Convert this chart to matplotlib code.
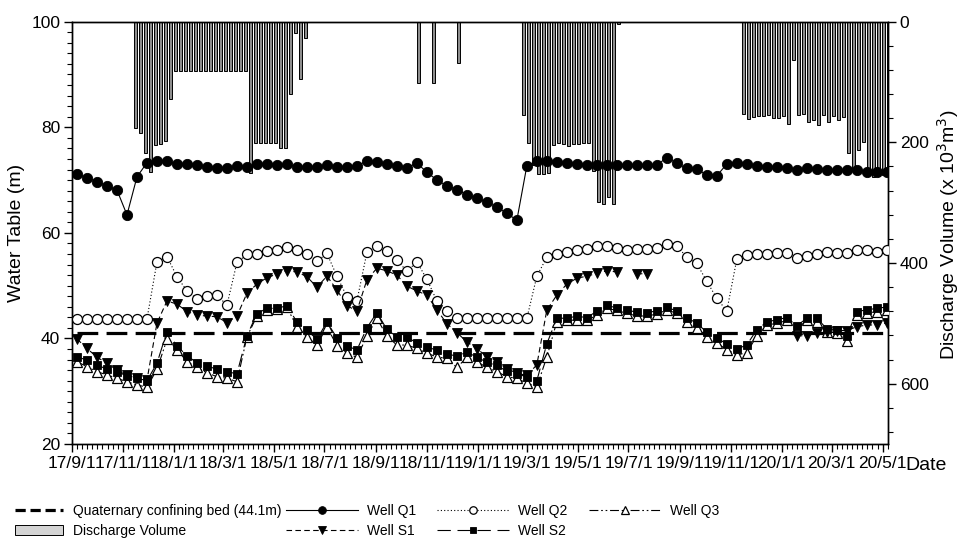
import numpy as np
import pandas as pd
import matplotlib
matplotlib.use('Agg')
import matplotlib.pyplot as plt
import matplotlib.dates as mdates
from matplotlib.lines import Line2D
from matplotlib.patches import Patch
from matplotlib.ticker import FixedLocator, MultipleLocator, FuncFormatter

plt.rcParams['font.family'] = ['Liberation Sans', 'DejaVu Sans']

# ---------------- data ----------------
obs_start = '2017-09-07'
obs_step_days = 12

well_q1 = [71.1, 70.45, 69.7, 68.9, 68.1, 63.4, 70.6, 73.3, 73.6, 73.6, 73.0, 73.0, 72.85, 72.5, 72.3, 72.3, 72.6, 72.5,
           73.0, 73.0, 72.85, 73.0, 72.5, 72.5, 72.5, 72.85, 72.5, 72.5, 72.6, 73.7, 73.4, 73.0, 72.7, 72.35, 73.2, 71.5,
           70.0, 68.9, 68.2, 67.2, 66.6, 65.8, 64.9, 63.7, 62.4,
           72.7, 73.6, 73.6, 73.5, 73.2, 73.0, 72.85, 72.85, 72.85, 72.85, 72.85, 72.85, 72.85, 72.85,
           74.25, 73.2, 72.2, 72.1, 70.95, 70.8, 73.05, 73.3, 73.05, 72.7, 72.5, 72.4, 72.35, 72.0, 72.2, 72.1,
           72.0, 71.9, 71.9, 72.0, 71.6, 71.6, 71.6]

well_q2 = [43.7, 43.7, 43.7, 43.7, 43.7, 43.7, 43.7, 43.7,
           54.5, 55.5, 51.7, 49.0, 47.5, 48.1, 48.2, 46.3, 54.4, 55.9,
           55.9, 56.5, 56.75, 57.25, 56.75, 55.9, 54.6, 56.1, 51.8, 47.9, 47.1, 56.3, 57.5, 56.5, 54.9, 52.7,
           54.5, 51.2, 47.1, 45.2,
           43.8, 43.8, 43.8, 43.8, 43.8, 43.8, 43.8, 43.8,
           51.8, 55.4, 55.9, 56.3, 56.75, 56.85, 57.5, 57.5, 57.1,
           56.8, 56.9, 56.9, 57.1, 57.9, 57.5, 55.4, 54.2, 50.8, 47.6, 45.2,
           55.0, 55.8, 55.9, 55.9, 56.1, 56.25, 55.2, 55.7, 56.0, 56.3, 56.25, 56.25, 56.75, 56.75, 56.4, 56.75]

well_q3 = [35.6, 34.65, 33.7, 33.1, 32.45, 31.8, 31.2, 30.75, 34.15, 39.8, 37.9, 35.6, 34.5, 33.5, 32.75, 32.45,
           31.8, 40.3, 44.25, 45.4, 45.5, 45.9, 42.2, 40.3, 38.75, 42.2, 38.6, 37.3, 36.4, 40.45, 43.8, 40.45,
           38.75, 38.75, 38.1, 37.2, 36.5, 36.2, 34.5, 36.4, 35.6, 34.5, 33.7, 32.75,
           32.45, 31.5, 30.85, 36.5, 43.2, 43.4, 43.5, 43.4, 44.4, 45.7, 45.3, 44.75, 44.25, 44.25, 44.6, 45.4,
           44.75, 43.2, 41.9, 40.2, 39.1, 37.9, 36.85, 37.3, 40.45, 42.55, 42.85, 43.4, 41.7, 43.5, 43.2, 41.3,
           41.0, 39.6, 44.4, 44.75, 45.1, 45.4]

nan = np.nan
well_s1 = [39.9, 38.1, 36.45, 35.3, 34.0, 33.0, 32.5, 32.1,
           42.9, 47.1, 46.5, 45.1, 44.4, 44.25, 44.1, 43.0, 44.25, 48.55, 50.3, 51.5, 52.2, 52.8, 52.6, 51.7,
           49.7, 51.8, 49.2, 46.2, 45.2, 51.1, 53.3, 52.8, 52.0, 49.9, 49.0, 48.2, 45.4,
           42.8, 41.1, 39.35, 38.05, 36.55, 35.5, 34.3, 33.4, 33.0, 35.0,
           45.4, 48.2, 50.3, 51.4, 51.8, 52.3, 52.8, 52.6,
           nan, 52.25, 52.25,
           nan, nan, nan, nan, nan, nan, nan, nan, nan, nan, nan, nan, nan, nan,
           40.5, 40.5, 41.0, 41.3, 41.5, 41.5, 42.2, 42.55, 42.55, 42.9]

well_s2 = [36.5, 35.9, 35.0, 34.15, 33.7, 32.9, 32.45, 32.0, 35.3, 41.3, 38.6, 36.7, 35.4, 34.8, 34.15, 33.7,
           33.3, 40.5, 44.7, 45.7, 45.7, 46.2, 43.1, 41.55, 39.85, 43.1, 40.1, 38.6, 37.8, 42.0, 44.9, 41.7,
           40.3, 40.3, 39.1, 38.4, 37.75, 37.0, 36.7, 37.35, 36.5, 35.45, 34.9, 33.75,
           33.3, 32.7, 32.0, 39.0, 43.8, 43.85, 44.2, 43.95, 45.15, 46.3, 45.75, 45.4, 44.95, 44.9, 45.2, 45.9, 45.2,
           43.9, 42.9, 41.15, 40.15, 38.9, 38.0, 38.75, 41.65, 43.1, 43.55, 43.95, 42.4, 43.8, 43.9, 41.8,
           41.65, 40.4, 45.1, 45.4, 45.7, 45.95]

confining_bed_level = 41.1
confining_bed_label = 'Quaternary confining bed (44.1m)'

discharge_step_days = 6
discharge_season1_start = '2017-11-16'
discharge_season1 = [177, 185, 217, 249, 205, 202, 197, 128,
                     81, 81, 81, 81, 81, 81, 81, 81, 81, 81, 81, 81, 81, 81, 81,
                     251, 201, 201, 201, 201, 201, 209, 209, 120, 19, 95, 27]
discharge_single_dates = ['2018-10-22', '2018-11-09', '2018-12-09']
discharge_single = [101, 101, 68]
discharge_season2_start = '2019-02-25'
discharge_season2 = [155, 201, 238, 252, 252, 251, 205, 201, 203, 206, 203, 203, 201, 201, 248, 299, 302, 290, 302, 3]
discharge_season3_start = '2019-11-16'
discharge_season3 = [153, 161, 158, 156, 157, 155, 160, 160, 157, 170, 63, 155, 153, 167, 163, 172, 155, 167,
                     157, 163, 158, 217, 246, 212, 199, 254, 257, 255, 254, 253]

x_start = '2017-09-01'
x_end = '2020-05-07 12:00'
major_tick_dates = pd.date_range('2017-09-01', '2020-05-01', freq='2MS')

# ---------------- build x values ----------------
obs_dates = pd.date_range(obs_start, periods=len(well_q1), freq=f'{obs_step_days}D')
xo = mdates.date2num(obs_dates.to_pydatetime())

bar_dates = []
bar_vals = []
for start, vals in [(discharge_season1_start, discharge_season1),
                    (discharge_season2_start, discharge_season2),
                    (discharge_season3_start, discharge_season3)]:
    d = pd.date_range(start, periods=len(vals), freq=f'{discharge_step_days}D')
    bar_dates.extend(list(d.to_pydatetime()))
    bar_vals.extend(vals)
bar_dates.extend(list(pd.to_datetime(discharge_single_dates).to_pydatetime()))
bar_vals.extend(discharge_single)
xb = mdates.date2num(bar_dates)

# ---------------- figure ----------------
W, H = 969, 545
fig = plt.figure(figsize=(W / 100, H / 100), dpi=100)
ax = fig.add_axes([72 / W, 1 - 444 / H, (888 - 72) / W, (444 - 21.7) / H])
ax2 = ax.twinx()

ax2.bar(xb, bar_vals, width=3.5, bottom=0, color='#8e8e8e', edgecolor='black', linewidth=0.7, align='center')
ax2.set_ylim(700, 0)
ax2.yaxis.set_major_locator(MultipleLocator(200))
ax2.yaxis.set_minor_locator(MultipleLocator(40))

ax.set_zorder(ax2.get_zorder() + 1)
ax.patch.set_visible(False)

lw = 0.8
bed_line, = ax.plot([xo[0], xo[-1]], [confining_bed_level, confining_bed_level], color='black', lw=2.3,
                    linestyle=(0, (6.5, 2.6)), zorder=1)
h_q1, = ax.plot(xo, well_q1, color='black', lw=lw, marker='o', ms=7.4, mfc='black', mec='black', mew=0.6,
                label='Well Q1', zorder=3)
h_q2, = ax.plot(xo, well_q2, color='black', lw=lw, linestyle=(0, (1, 2.0)), marker='o', ms=7.2, mfc='white',
                mec='black', mew=0.9, label='Well Q2', zorder=3)
h_q3, = ax.plot(xo, well_q3, color='black', lw=lw, linestyle=(0, (8, 2.5, 1.5, 2.5, 1.5, 2.5)), marker='^',
                ms=6.8, mfc='white', mec='black', mew=0.9, label='Well Q3', zorder=3)
h_s1, = ax.plot(xo, well_s1, color='black', lw=lw, linestyle=(0, (5, 3)), marker='v', ms=6.8, mfc='black',
                mec='black', mew=0.6, label='Well S1', zorder=3)
h_s2, = ax.plot(xo, well_s2, color='black', lw=lw, linestyle=(0, (12, 6)), marker='s', ms=6.0, mfc='black',
                mec='black', mew=0.6, label='Well S2', zorder=3)

ax.set_ylim(20, 100)
ax.yaxis.set_major_locator(MultipleLocator(20))
ax.yaxis.set_minor_locator(MultipleLocator(2))

x0 = mdates.date2num(pd.Timestamp(x_start).to_pydatetime())
x1 = mdates.date2num(pd.Timestamp(x_end).to_pydatetime())
ax.set_xlim(x0, x1)
majors = mdates.date2num(major_tick_dates.to_pydatetime())
ax.xaxis.set_major_locator(FixedLocator(majors))
step = np.diff(majors)
minors = []
for a, s in zip(majors[:-1], step):
    minors.extend(a + s * np.arange(1, 10) / 10)
s_last = step[-1]
minors.extend([m for m in majors[-1] + s_last * np.arange(1, 10) / 10 if m <= x1])
ax.xaxis.set_minor_locator(FixedLocator(minors))


def fmt(x, pos):
    d = mdates.num2date(x)
    return f"{d.year % 100}/{d.month}/{d.day}"


ax.xaxis.set_major_formatter(FuncFormatter(fmt))

for a in (ax, ax2):
    for sp in a.spines.values():
        sp.set_linewidth(1.0)
    a.tick_params(which='major', direction='out', length=6, width=1.0, labelsize=12.5, pad=2.5)
    a.tick_params(which='minor', direction='out', length=3.5, width=0.8)

fig.text(17 / W, 1 - 233 / H, 'Water Table (m)', rotation=90, ha='center', va='center', fontsize=14)
fig.text(948 / W, 1 - 235 / H, 'Discharge Volume (x 10$^3$m$^3$)', rotation=90, ha='center', va='center',
         fontsize=14)
fig.text(926 / W, 1 - 466 / H, 'Date', ha='center', va='center', fontsize=14)

# ---------------- legend ----------------
bed_handle = Line2D([], [], color='black', lw=2.3, linestyle=(0, (3.2, 1.5)))
bar_handle = Patch(facecolor='#d4d4d4', edgecolor='black', linewidth=0.7)
leg1 = fig.legend([bed_handle, bar_handle], [confining_bed_label, 'Discharge Volume'], loc='upper left',
                  bbox_to_anchor=(15 / W, 1 - 504 / H), frameon=False, fontsize=10, handlelength=3.45,
                  handletextpad=0.7, labelspacing=0.42, borderpad=0, borderaxespad=0)
leg2 = fig.legend([h_q1, h_s1, h_q2, h_s2, h_q3], ['Well Q1', 'Well S1', 'Well Q2', 'Well S2', 'Well Q3'],
                  ncol=3, loc='upper left', bbox_to_anchor=(286 / W, 1 - 504 / H), frameon=False, fontsize=10,
                  handlelength=5.2, handletextpad=0.65, labelspacing=0.42, columnspacing=1.5, numpoints=1,
                  markerscale=0.75, borderpad=0, borderaxespad=0)

fig.savefig('out.png', dpi=100)
